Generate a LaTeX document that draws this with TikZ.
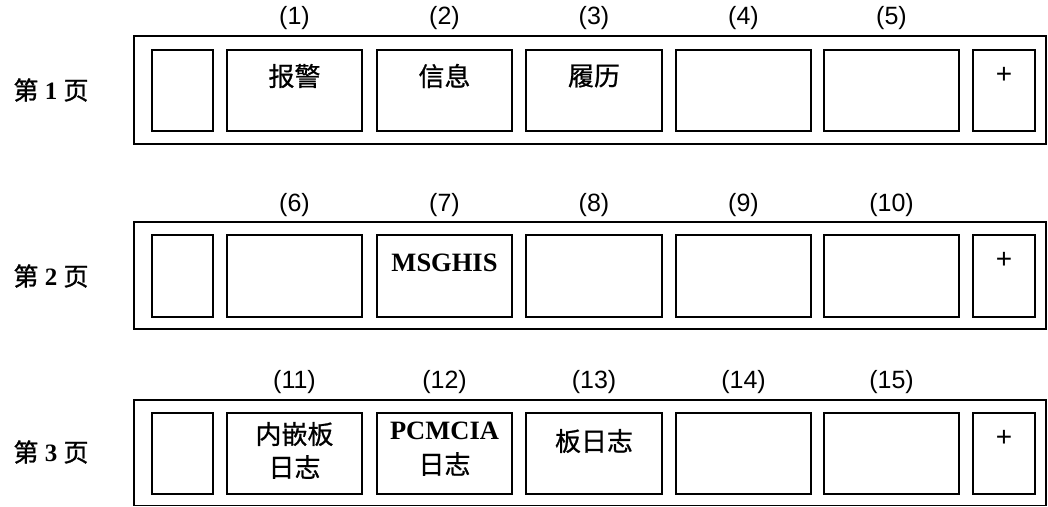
\documentclass[tikz,border=0pt]{standalone}
\usepackage{fontspec}
\setmainfont{Liberation Serif}
\newfontfamily\cjk[FakeBold=0.8]{Noto Sans CJK SC}
\newfontfamily\cjkb[FakeBold=1.2]{Noto Sans CJK SC}
\newfontfamily\arial{Liberation Sans}
\usetikzlibrary{fit}
\begin{document}
\begin{tikzpicture}[x=1pt,y=-1pt,
  outer/.style={draw, line width=1.3pt, inner sep=0pt},
  inbox/.style={draw, line width=1.8pt, inner sep=0pt},
  num/.style={font=\arial\fontsize{25}{28}\selectfont, inner sep=0pt},
  txt/.style={font=\cjk\fontsize{26}{33}\selectfont, align=center, inner sep=0pt},
  bold/.style={font=\bfseries\fontsize{26.5}{32}\selectfont, inner sep=0pt},
  page/.style={font=\fontsize{25}{30}\selectfont, inner sep=0pt},
  plus/.style={font=\arial\fontsize{28}{30}\selectfont, inner sep=0pt}]
\useasboundingbox[fill=white] (0,0) rectangle (1048,506);

\foreach \r/\t/\b/\ot/\ob in {1/50/131/36/144, 2/235/317/222/329, 3/413/494/400/505.3}{
  \node[outer, fit={(134,\ot) (1046,\ob)}] (row\r) {};
  \foreach \k/\xa/\xb in {s/152/213, a/227/362, b/377/512, c/526/662, d/676/811, e/824/959, p/973/1035}{
    \node[inbox, fit={(\xa,\t) (\xb,\b)}] (r\r\k) {};
  }
}

% page labels
\node[page] (pg1) at (51,90) {{\cjkb 第} \textbf{1} {\cjkb 页}};
\node[page] (pg2) at (51,276) {{\cjkb 第} \textbf{2} {\cjkb 页}};
\node[page] (pg3) at (51,452) {{\cjkb 第} \textbf{3} {\cjkb 页}};

% numbers
\node[num] (n1) at (294.5,18) {(1)};
\node[num] (n2) at (444.5,18) {(2)};
\node[num] (n3) at (594,18) {(3)};
\node[num] (n4) at (743.5,18) {(4)};
\node[num] (n5) at (891.5,18) {(5)};
\node[num] (n6) at (294.5,205) {(6)};
\node[num] (n7) at (444.5,205) {(7)};
\node[num] (n8) at (594,205) {(8)};
\node[num] (n9) at (743.5,205) {(9)};
\node[num] (n10) at (891.5,205) {(10)};
\node[num] (n11) at (294.5,382) {(11)};
\node[num] (n12) at (444.5,382) {(12)};
\node[num] (n13) at (594,382) {(13)};
\node[num] (n14) at (743.5,382) {(14)};
\node[num] (n15) at (891.5,382) {(15)};

% box texts
\node[txt] (t1) at (294.5,76) {报警};
\node[txt] (t2) at (444.5,76) {信息};
\node[txt] (t3) at (594,76) {履历};
\node[bold] (t7) at (444.5,262.5) {MSGHIS};
\node[txt] (t11a) at (294.5,434) {内嵌板};
\node[txt] (t11b) at (294.5,467) {日志};
\node[bold] (t12a) at (444.5,431) {PCMCIA};
\node[txt] (t12b) at (444.5,464) {日志};
\node[txt] (t13) at (594,441) {板日志};

% plus signs
\node[plus] (p1) at (1004,75) {+};
\node[plus] (p2) at (1004,260) {+};
\node[plus] (p3) at (1004,438) {+};
\end{tikzpicture}
\end{document}
